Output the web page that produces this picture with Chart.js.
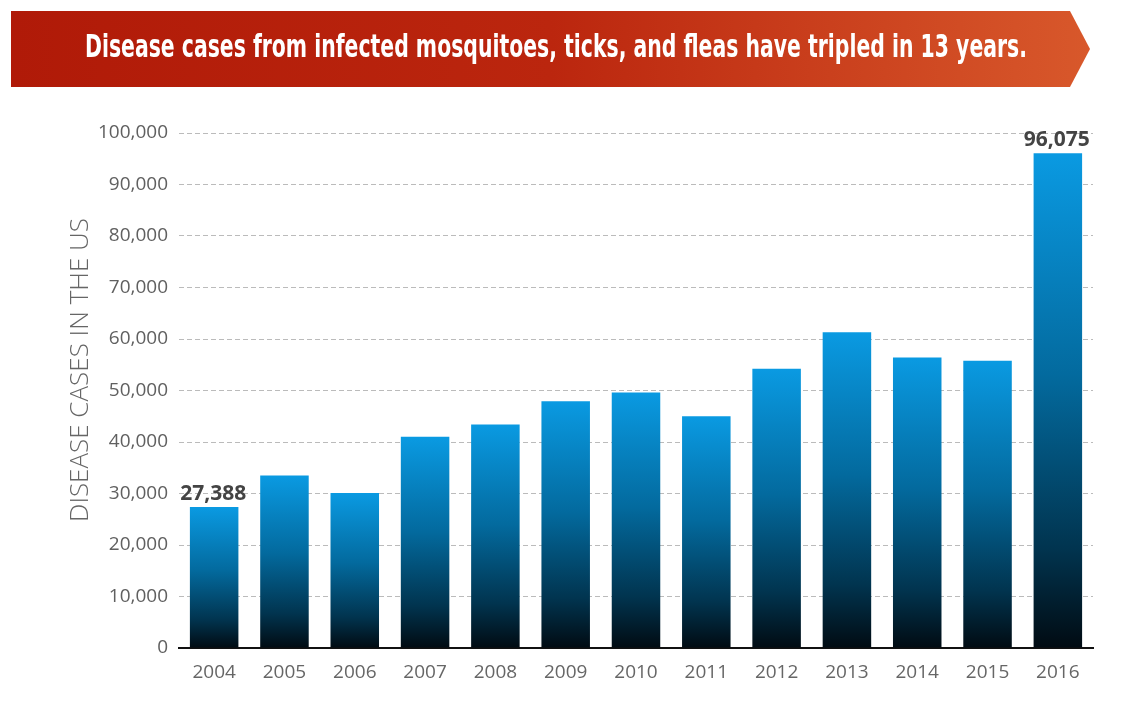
<!DOCTYPE html>
<html>
<head>
<meta charset="utf-8">
<script src="https://cdn.jsdelivr.net/npm/chart.js@4"></script>
<style>
  html, body { margin: 0; padding: 0; background: #ffffff; }
  #wrap { position: relative; width: 1124px; height: 702px; }
</style>
</head>
<body>
<div id="wrap"><canvas id="c" width="1124" height="702"></canvas></div>
<script>
const titleText = "Disease cases from infected mosquitoes, ticks, and fleas have tripled in 13 years.";
const yAxisTitle = "DISEASE CASES IN THE US";
const years = ["2004","2005","2006","2007","2008","2009","2010","2011","2012","2013","2014","2015","2016"];
const cases = [27388, 33500, 30100, 41000, 43400, 47900, 49600, 45000, 54200, 61300, 56400, 55800, 96075];
const labelledYears = ["2004", "2016"];

const bannerPlugin = {
  id: 'banner',
  beforeDraw(chart) {
    const ctx = chart.ctx;
    ctx.save();
    const x0 = 11, x1 = 1070, tip = 1090, y0 = 11, y1 = 87;
    const g = ctx.createLinearGradient(x0, 0, tip, 0);
    g.addColorStop(0, '#b01a08');
    g.addColorStop(0.5, '#bb260e');
    g.addColorStop(1, '#d8582b');
    ctx.beginPath();
    ctx.moveTo(x0, y0);
    ctx.lineTo(x1, y0);
    ctx.lineTo(tip, (y0 + y1) / 2);
    ctx.lineTo(x1, y1);
    ctx.lineTo(x0, y1);
    ctx.closePath();
    ctx.fillStyle = g;
    ctx.fill();
    ctx.font = 'bold 32px "DejaVu Sans Condensed", "Liberation Sans Narrow", "Roboto", sans-serif';
    ctx.fillStyle = '#ffffff';
    ctx.textBaseline = 'alphabetic';
    ctx.textAlign = 'left';
    const w = ctx.measureText(titleText).width;
    const target = 942;
    const sx = target / w;
    ctx.translate(85, 57);
    ctx.scale(sx, 1);
    ctx.fillText(titleText, 0, 0);
    ctx.restore();

    // vertical axis title
    ctx.save();
    ctx.font = '300 26px "Open Sans", sans-serif';
    ctx.fillStyle = '#666666';
    ctx.textAlign = 'center';
    ctx.textBaseline = 'alphabetic';
    ctx.translate(88, 370);
    ctx.rotate(-Math.PI / 2);
    ctx.fillText(yAxisTitle, 0, 0);
    ctx.restore();
  }
};

const valueLabelPlugin = {
  id: 'valueLabels',
  afterDatasetsDraw(chart) {
    const ctx = chart.ctx;
    const meta = chart.getDatasetMeta(0);
    ctx.save();
    ctx.font = 'bold 21px "Open Sans", sans-serif';
    ctx.fillStyle = '#444444';
    ctx.textAlign = 'center';
    ctx.textBaseline = 'alphabetic';
    meta.data.forEach((bar, i) => {
      if (labelledYears.includes(years[i])) {
        const txt = cases[i].toLocaleString('en-US');
        ctx.fillText(txt, bar.x - 1, bar.y - 7);
      }
    });
    ctx.restore();
  }
};

new Chart(document.getElementById('c'), {
  type: 'bar',
  data: {
    labels: years,
    datasets: [{
      data: cases,
      backgroundColor: (c) => {
        const chart = c.chart;
        if (!chart.chartArea || c.raw === undefined) return '#0a96dc';
        const ys = chart.scales.y;
        const top = ys.getPixelForValue(c.raw);
        const bottom = ys.getPixelForValue(0);
        const g = chart.ctx.createLinearGradient(0, top, 0, bottom);
        g.addColorStop(0, '#0a9ae2');
        g.addColorStop(0.45, '#036a9e');
        g.addColorStop(0.8, '#01344f');
        g.addColorStop(1, '#010b12');
        return g;
      },
      borderWidth: 0,
      barPercentage: 0.69,
      categoryPercentage: 1.0
    }]
  },
  options: {
    responsive: false,
    animation: false,
    devicePixelRatio: 1,
    layout: { padding: { top: 133, right: 31, bottom: 0, left: 0 } },
    plugins: {
      legend: { display: false },
      tooltip: { enabled: false },
      title: { display: false }
    },
    scales: {
      x: {
        grid: { display: false, drawTicks: false },
        border: { display: true, color: '#111111', width: 2 },
        ticks: {
          color: '#666666',
          padding: 13,
          font: { family: '"Open Sans", sans-serif', size: 19 }
        },
        afterFit(scale) { scale.height = 54; }
      },
      y: {
        min: 0,
        max: 100000,
        grid: {
          color: '#bbbbbb',
          lineWidth: 1,
          drawTicks: false
        },
        border: { display: false, dash: [5, 3] },
        ticks: {
          stepSize: 10000,
          color: '#606060',
          padding: 11,
          font: { family: '"Open Sans", sans-serif', size: 19 },
          callback: (v) => v.toLocaleString('en-US')
        },
        title: { display: false },
        afterFit(scale) { scale.width = 179; }
      }
    }
  },
  plugins: [bannerPlugin, valueLabelPlugin]
});
</script>
</body>
</html>
